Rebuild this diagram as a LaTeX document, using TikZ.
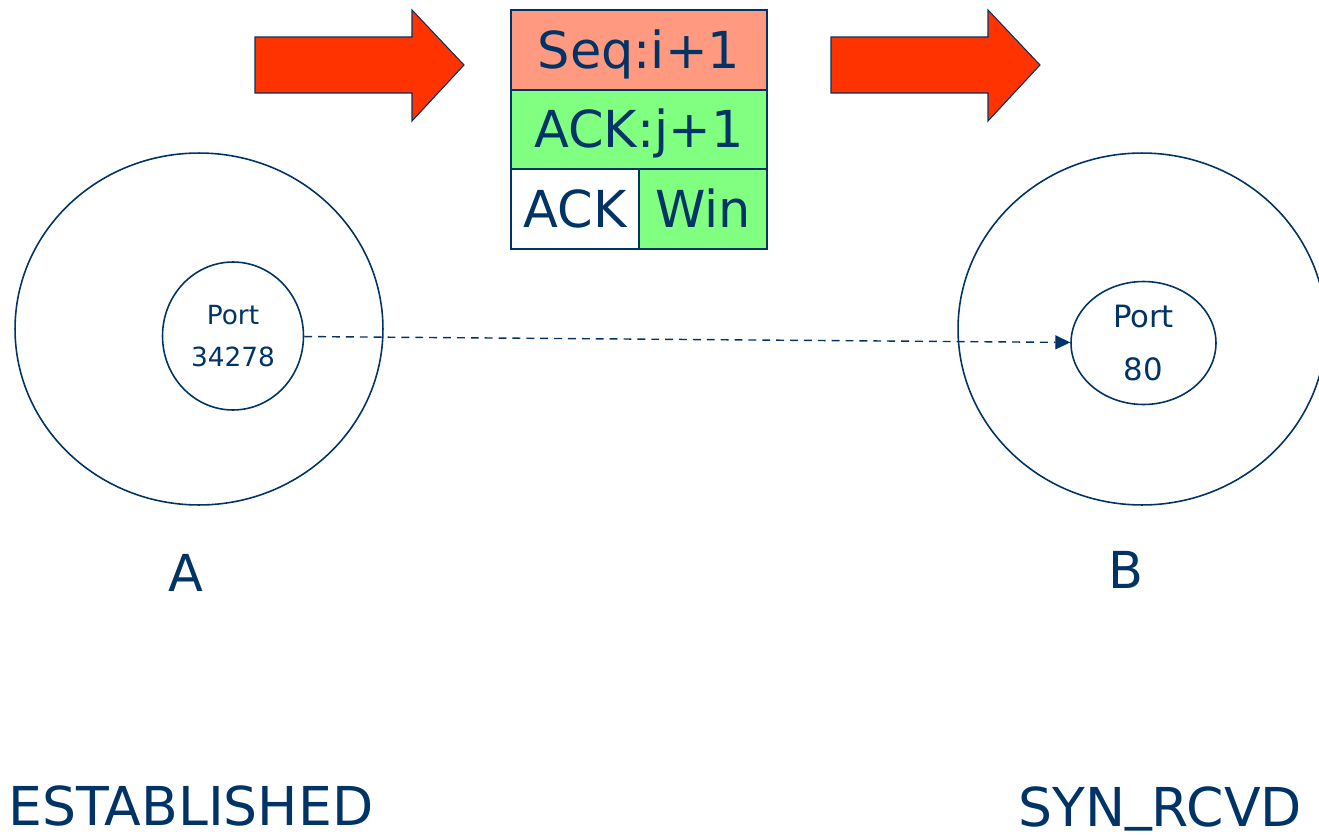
\documentclass[tikz,border=0pt]{standalone}
\usepackage{fontspec}
\setmainfont{DejaVu Sans}
\usetikzlibrary{arrows.meta, positioning, shapes.geometric}

\definecolor{navy}{RGB}{0,51,102}
\definecolor{arrowred}{RGB}{255,51,0}
\definecolor{seqred}{RGB}{255,153,128}
\definecolor{ackgreen}{RGB}{128,255,128}

\begin{document}
\begin{tikzpicture}[
			x=0.02cm, y=-0.02cm,
			host/.style={
				draw=navy,
				ellipse,
				line width=0.9pt,
				inner sep=0pt,
				minimum width=7.36cm,
				minimum height=7.04cm
			},
			port/.style={
				draw=navy,
				ellipse,
				line width=0.9pt,
				inner sep=0pt,
				align=center,
				text=navy
			},
			field/.style={
				draw=navy,
				line width=0.9pt,
				inner sep=0pt,
				outer sep=0pt,
				minimum height=1.59cm,
				text=navy,
				font=\fontsize{29}{30}\selectfont,
				text height=21pt,
				text depth=0pt
			},
			hostname/.style={
				text=navy,
				inner sep=0pt,
				font=\fontsize{29}{30}\selectfont
			},
			bigarrow/.style={fill=arrowred, draw=navy, line width=0.6pt},
			link/.style={dashed, dash pattern=on 4.5pt off 3.4pt, navy, line width=0.8pt,
				-{Triangle[length=8.5pt, width=8pt]}},
			node distance=0pt
			]
			
			\useasboundingbox (0,0) rectangle (1319,835);
			
			% hosts
			\node[host] (hostA) at (199,329) {};
			\node[host] (hostB) at (1142,329) {};
			\node[port, minimum width=2.82cm, minimum height=2.96cm,
				font=\fontsize{15}{24}\selectfont] (portA) at (233,336) {Port\\34278};
			\node[port, minimum width=2.9cm, minimum height=2.46cm,
				font=\fontsize{17.5}{30}\selectfont] (portB) at (1143.5,343) {Port\\80};
			
			\draw[link] (portA) -- (portB);
			
			% segment
			\node[field, fill=seqred, minimum width=5.12cm] (seq) at (639,50) {Seq:i+1};
			\node[field, fill=ackgreen, minimum width=5.12cm, below=of seq] (ackno) {ACK:j+1};
			\node[field, fill=white, minimum width=2.56cm, below=of ackno.south west, anchor=north west] (ackflag) {ACK};
			\node[field, fill=ackgreen, minimum width=2.56cm, right=of ackflag] (win) {Win};
			
			% direction
			\foreach \x in {255, 831}
				\draw[bigarrow] (\x,37) -- ++(157,0) -- ++(0,-27) -- ++(52,55) -- ++(-52,56) -- ++(0,-28) -- ++(-157,0) -- cycle;
			
			% labels
			\node[hostname] (nameA) at (186,573) {A};
			\node[hostname] (nameB) at (1126,570) {B};
			\node[hostname, font=\fontsize{30.5}{32}\selectfont, anchor=base west] (stateA) at (8,825) {ESTABLISHED};
			\node[hostname, font=\fontsize{30.5}{32}\selectfont, anchor=base west] (stateB) at (1018,826) {SYN\raisebox{4.5pt}{\_}RCVD};
			
		\end{tikzpicture}
\end{document}
